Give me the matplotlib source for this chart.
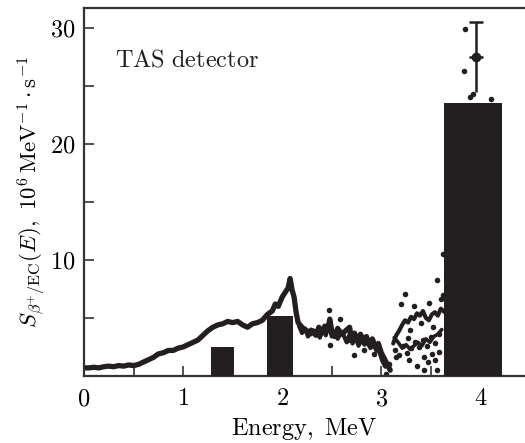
import matplotlib
matplotlib.use("Agg")
import matplotlib.pyplot as plt
from matplotlib.ticker import MultipleLocator, FuncFormatter

plt.rcParams['mathtext.fontset'] = 'cm'
plt.rcParams['font.family'] = ['DejaVu Serif']

# Main TAS spectrum curve (energy MeV, value)
curve_e = [0.00, 0.05, 0.10, 0.15, 0.20, 0.25, 0.30, 0.35, 0.40, 0.45, 0.50, 0.55, 0.60, 0.65,
           0.70, 0.75, 0.80, 0.85, 0.90, 0.95, 1.00, 1.05, 1.10, 1.15, 1.20, 1.25, 1.30, 1.35,
           1.40, 1.45, 1.50, 1.55, 1.60, 1.65, 1.70, 1.75, 1.80, 1.85, 1.90, 1.93, 1.96, 2.00,
           2.03, 2.06, 2.08, 2.10, 2.12, 2.14, 2.16, 2.19, 2.22, 2.25, 2.28, 2.31, 2.34, 2.37,
           2.40, 2.43, 2.46, 2.48, 2.50, 2.53, 2.56, 2.60, 2.64, 2.68, 2.70, 2.73, 2.76, 2.79,
           2.82, 2.85, 2.88, 2.91, 2.94, 2.97, 3.00, 3.03, 3.06, 3.09]
curve_v = [0.7, 0.7, 0.75, 0.7, 0.8, 0.85, 0.8, 0.9, 0.85, 0.95, 0.9, 1.0, 1.2, 1.4,
           1.6, 1.9, 2.0, 2.2, 2.2, 2.4, 2.5, 2.7, 2.9, 3.1, 3.5, 3.9, 4.2, 4.4,
           4.5, 4.7, 4.6, 4.7, 4.4, 4.2, 4.5, 4.6, 4.8, 5.3, 5.6, 6.2, 6.0, 6.8,
           7.2, 7.6, 8.4, 7.4, 6.8, 5.5, 4.6, 4.3, 4.0, 3.9, 3.6, 3.9, 3.5, 4.2,
           3.7, 4.3, 4.0, 4.9, 3.9, 3.4, 4.1, 3.6, 3.9, 4.2, 3.2, 3.7, 3.0, 3.6,
           3.0, 3.4, 2.7, 3.2, 2.5, 2.8, 2.0, 1.5, 1.0, 0.5]

# Second noisy trace in the 2.2-3.1 MeV region
noise_e = [2.17, 2.20, 2.23, 2.26, 2.29, 2.32, 2.35, 2.38, 2.41, 2.44, 2.47, 2.50, 2.53,
           2.56, 2.59, 2.62, 2.65, 2.68, 2.71, 2.74, 2.77, 2.80, 2.83, 2.86, 2.89, 2.92,
           2.95, 2.98, 3.01, 3.04]
noise_v = [4.3, 3.7, 4.1, 3.4, 4.0, 3.6, 3.9, 3.3, 4.0, 3.5, 4.5, 3.4, 3.8,
           3.2, 3.7, 3.5, 2.9, 3.6, 2.8, 3.4, 2.6, 3.1, 2.7, 2.9, 2.4, 2.7,
           2.2, 2.1, 1.3, 0.8]

# Upper branch above 3.1 MeV
upper_e = [3.12, 3.15, 3.18, 3.21, 3.24, 3.27, 3.30, 3.33, 3.36, 3.39, 3.42, 3.45, 3.48,
           3.51, 3.54, 3.57, 3.60, 3.64]
upper_v = [2.8, 3.5, 3.9, 4.4, 4.8, 4.6, 5.1, 4.9, 5.4, 5.2, 5.6, 5.0, 4.8,
           5.3, 5.5, 5.2, 5.8, 5.5]

# Lower branch above 3.1 MeV
lower_e = [3.13, 3.17, 3.21, 3.25, 3.29, 3.33, 3.37, 3.41, 3.45, 3.49, 3.53, 3.57, 3.61]
lower_v = [3.3, 2.9, 2.4, 2.7, 2.3, 2.6, 2.9, 2.6, 3.2, 2.9, 3.4, 3.6, 4.0]

# Scattered points
dots_e = [3.14, 3.18, 3.22, 3.26, 3.30, 3.34, 3.38, 3.42, 3.46, 3.50, 3.54, 3.58,
          3.28, 3.43, 3.54, 3.43, 3.56, 3.24, 3.56, 3.62, 2.48, 2.72, 3.08, 2.47,
          3.20, 3.33, 3.48, 3.60, 3.84, 3.83, 4.11, 3.90, 3.93, 3.29, 3.40, 3.52,
          3.15, 3.36, 3.47, 3.58, 2.58, 2.66, 2.83, 2.93, 3.05, 3.27, 3.51, 3.62]
dots_v = [2.2, 1.8, 2.6, 2.0, 2.4, 2.9, 2.5, 3.1, 2.6, 3.4, 2.8, 3.6,
          1.4, 1.6, 1.4, 0.5, 0.5, 7.1, 8.3, 10.5, 2.7, 1.8, 1.0, 5.7,
          6.2, 6.0, 6.3, 6.6, 29.9, 26.3, 23.9, 24.0, 24.3, 4.0, 4.6, 4.2,
          1.6, 0.9, 1.2, 2.1, 4.9, 3.1, 2.2, 1.9, 0.2, 3.3, 1.9, 7.0]

# Histogram bars (left edge, width, height)
bar_left = [1.28, 1.85, 3.63]
bar_width = [0.23, 0.26, 0.59]
bar_height = [2.5, 5.2, 23.5]

# Error point
err_e = [3.96]
err_v = [27.5]
err_lo = [3.0]
err_hi = [3.0]

ink = '#231f20'

fig = plt.figure(figsize=(5.25, 4.43), dpi=100)
ax = fig.add_axes([84/525, 1-376/443, 441/525, 368/443])

ax.plot(curve_e, curve_v, color=ink, lw=3.8, solid_capstyle='round',
        solid_joinstyle='round', zorder=2)
ax.plot(noise_e, noise_v, color=ink, lw=3.0, solid_capstyle='round',
        solid_joinstyle='round', zorder=2)
ax.plot(upper_e, upper_v, color=ink, lw=3.0, solid_capstyle='round',
        solid_joinstyle='round', zorder=2)
ax.plot(lower_e, lower_v, color=ink, lw=2.6, solid_capstyle='round',
        solid_joinstyle='round', zorder=2)
ax.scatter(dots_e, dots_v, s=16, color=ink, zorder=2, linewidths=0)
ax.bar(bar_left, bar_height, width=bar_width, align='edge', color=ink, zorder=3)
ax.errorbar(err_e, err_v, yerr=[err_lo, [0]], fmt='o', ms=6, color=ink,
            ecolor=ink, elinewidth=1.8, capsize=0, zorder=4)
ax.errorbar(err_e, err_v, yerr=[[0], err_hi], fmt='none', ecolor=ink,
            elinewidth=1.8, capsize=5, capthick=1.8, zorder=4)

ax.set_xlim(0, 4.45)
ax.set_ylim(0, 31.7)

ax.xaxis.set_major_locator(MultipleLocator(1))
ax.xaxis.set_minor_locator(MultipleLocator(0.5))
fmt = FuncFormatter(lambda v, p: r'$%d$' % round(v))
ax.xaxis.set_major_formatter(fmt)
ax.yaxis.set_major_formatter(fmt)
ax.set_yticks([10, 20, 30])
ax.set_yticks([0, 5, 15, 25], minor=True)

ax.tick_params(which='both', direction='in', top=False, right=False, labelsize=17.5,
               color='#333333', length=7, width=1.2)
ax.tick_params(axis='x', pad=8)
ax.tick_params(axis='y', pad=6)

ax.spines['right'].set_visible(False)
for s in ['left', 'top', 'bottom']:
    ax.spines[s].set_linewidth(1.6)
    ax.spines[s].set_color('#333333')

ax.text(0.07, 0.858, r'$\mathrm{TAS\ detector}$', transform=ax.transAxes,
        fontsize=17.5, va='center', ha='left', color=ink)
ax.set_xlabel(r'$\mathrm{Energy,\ MeV}$', fontsize=17.5, labelpad=4)
ax.set_ylabel(r'$S_{\beta^{+}/\mathrm{EC}}(E),\ 10^{6}\,\mathrm{MeV}^{-1}\cdot\mathrm{s}^{-1}$',
              fontsize=16.5, labelpad=2)

fig.savefig('out.png', dpi=100)
